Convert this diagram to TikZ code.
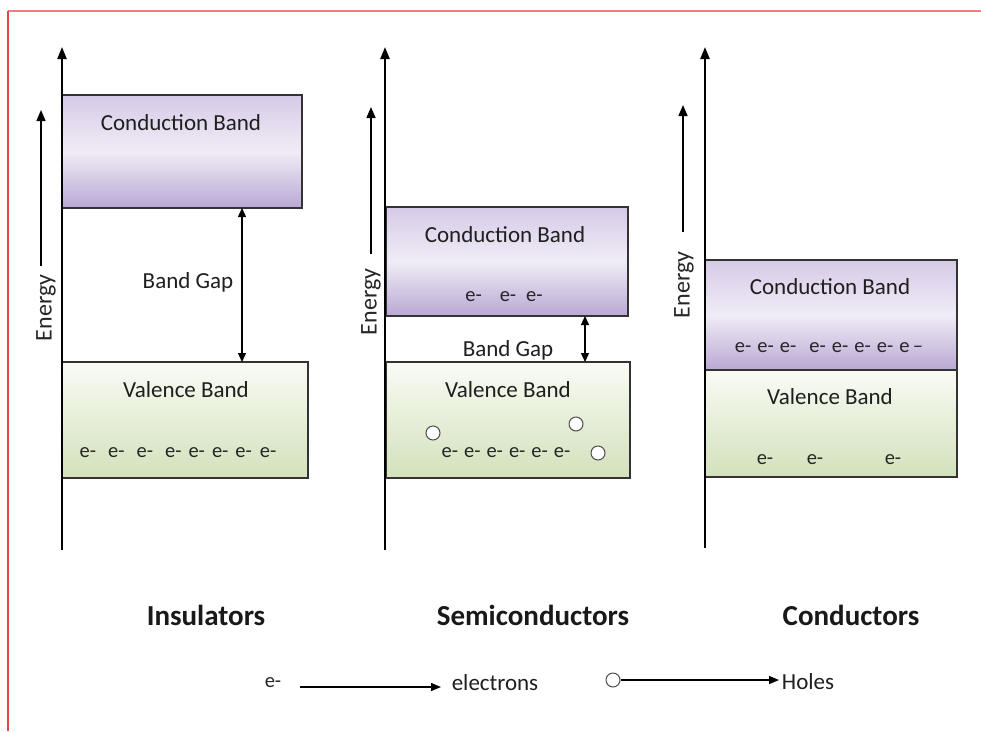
\documentclass[tikz,border=0pt]{standalone}
\usepackage{fontspec}
\setmainfont{Carlito}
\usetikzlibrary{arrows.meta}
\definecolor{cbTop}{HTML}{D6CAE7}
\definecolor{cbMid}{HTML}{F0ECF6}
\definecolor{cbBot}{HTML}{B9A8D4}
\definecolor{vbTop}{HTML}{F9FBF5}
\definecolor{vbBot}{HTML}{D3E1BB}
\definecolor{frameTop}{HTML}{E88080}
\definecolor{frameLeft}{HTML}{E04646}
\begin{document}
\begin{tikzpicture}[x=1pt,y=-1pt]
\tikzset{
 bandbox/.style={draw=black!80, line width=1.8pt, inner sep=0pt, outer sep=0pt, anchor=north west},
 cband/.style={bandbox, top color=cbTop, bottom color=cbBot, middle color=cbMid},
 vband/.style={bandbox, top color=vbTop, bottom color=vbBot},
 txt/.style={font=\fontsize{23}{27}\selectfont, inner sep=0pt, text=black!88},
 etxt/.style={font=\fontsize{20.5}{24}\selectfont, inner sep=0pt, text=black!85},
 entxt/.style={font=\fontsize{24}{28}\selectfont, inner sep=0pt, text=black!85, rotate=90},
 ttl/.style={font=\fontsize{29}{33}\selectfont\bfseries, inner sep=0pt, text=black!90},
 axisline/.style={line width=2.2pt, -{Triangle[length=12pt,width=9pt]}},
 energyline/.style={line width=1.5pt, -{Triangle[length=11pt,width=9pt]}},
 gaparrow/.style={line width=1.3pt, {Triangle[length=9pt,width=8pt]}-{Triangle[length=9pt,width=8pt]}},
 legarrow/.style={line width=1.3pt, -{Triangle[length=10pt,width=8pt]}},
 hole/.style={circle, draw=black!70, line width=1pt, minimum width=13pt, minimum height=14pt, inner sep=0pt, fill=white},
}
\useasboundingbox (0,0) rectangle (981,731);
\fill[white] (0,0) rectangle (981,731);
% frame
\draw[frameTop, line width=2pt] (8,10.5) -- (981,10.5);
\draw[frameLeft, line width=1.6pt] (8,10.5) -- (8,731);

% ---------- Insulators ----------
\node[cband, minimum width=240pt, minimum height=113pt] (cb1) at (62,95) {};
\node[vband, minimum width=246pt, minimum height=116pt] (vb1) at (62,362) {};
\coordinate (ax1b) at (62,550); \coordinate (ax1t) at (62,47);
\draw[axisline] (ax1b) -- (ax1t);
\coordinate (en1b) at (41,266); \coordinate (en1t) at (41,110);
\draw[energyline] (en1b) -- (en1t);
\node[entxt] (en1) at (46,308) {Energy};
\coordinate (g1t) at (242,208); \coordinate (g1b) at (242,362);
\draw[gaparrow] (g1t) -- (g1b);
\node[txt] (cbl1) at (181,123) {Conduction Band};
\node[txt] (bg1) at (188,282) {Band Gap};
\node[txt] (vbl1) at (186,390) {Valence Band};
\node[etxt] (el1) at (178,453) {e-\hspace{12pt}e-\hspace{12pt}e-\hspace{12pt}e-\hspace{7pt}e-\hspace{7pt}e-\hspace{7pt}e-\hspace{8pt}e-};
\node[ttl] (t1) at (206,615) {Insulators};

% ---------- Semiconductors ----------
\node[cband, minimum width=242pt, minimum height=109pt] (cb2) at (386,207) {};
\node[vband, minimum width=244pt, minimum height=116pt] (vb2) at (386,362) {};
\coordinate (ax2b) at (385,550); \coordinate (ax2t) at (385,47);
\draw[axisline] (ax2b) -- (ax2t);
\coordinate (en2b) at (371,254); \coordinate (en2t) at (371,107);
\draw[energyline] (en2b) -- (en2t);
\node[entxt] (en2) at (371,302) {Energy};
\coordinate (g2t) at (585,316); \coordinate (g2b) at (585,362);
\draw[gaparrow] (g2t) -- (g2b);
\node[txt] (cbl2) at (505,235) {Conduction Band};
\node[etxt] (el2a) at (504,297) {e-\hspace{18pt}e-\hspace{10pt}e-};
\node[txt] (bg2) at (508,350) {Band Gap};
\node[txt] (vbl2) at (508,390) {Valence Band};
\node[etxt] (el2b) at (506,453) {e-\hspace{6pt}e-\hspace{6pt}e-\hspace{6pt}e-\hspace{6pt}e-\hspace{6pt}e-};
\node[hole] (h1) at (433,433) {};
\node[hole] (h2) at (576,424) {};
\node[hole] (h3) at (598,453) {};
\node[ttl] (t2) at (533,615) {Semiconductors};

% ---------- Conductors ----------
\node[cband, minimum width=252pt, minimum height=110pt] (cb3) at (705,260) {};
\node[vband, minimum width=252pt, minimum height=107pt] (vb3) at (705,370) {};
\coordinate (ax3b) at (705,548); \coordinate (ax3t) at (705,47);
\draw[axisline] (ax3b) -- (ax3t);
\coordinate (en3b) at (683,232); \coordinate (en3t) at (683,105);
\draw[energyline] (en3b) -- (en3t);
\node[entxt] (en3) at (684,285) {Energy};
\node[txt] (cbl3) at (830,287) {Conduction Band};
\node[etxt] (el3a) at (829,348) {e-\hspace{6pt}e-\hspace{6pt}e-\hspace{13pt}e-\hspace{6pt}e-\hspace{6pt}e-\hspace{6pt}e-\hspace{6pt}e\,--};
\node[txt] (vbl3) at (830,397) {Valence Band};
\node[etxt] (el3b) at (765,460) {e-};
\node[etxt] (el3c) at (815,460) {e-};
\node[etxt] (el3d) at (893,460) {e-};
\node[ttl] (t3) at (851,615) {Conductors};

% ---------- Legend ----------
\node[etxt] (le) at (273,683) {e-};
\node[txt] (lel) at (495,683) {electrons};
\coordinate (la1s) at (300,687); \coordinate (la1e) at (441,687);
\draw[legarrow] (la1s) -- (la1e);
\node[hole] (lh) at (613,680) {};
\node[txt] (lhl) at (808,682) {Holes};
\draw[legarrow] (lh) -- (779,680);
\end{tikzpicture}
\end{document}
